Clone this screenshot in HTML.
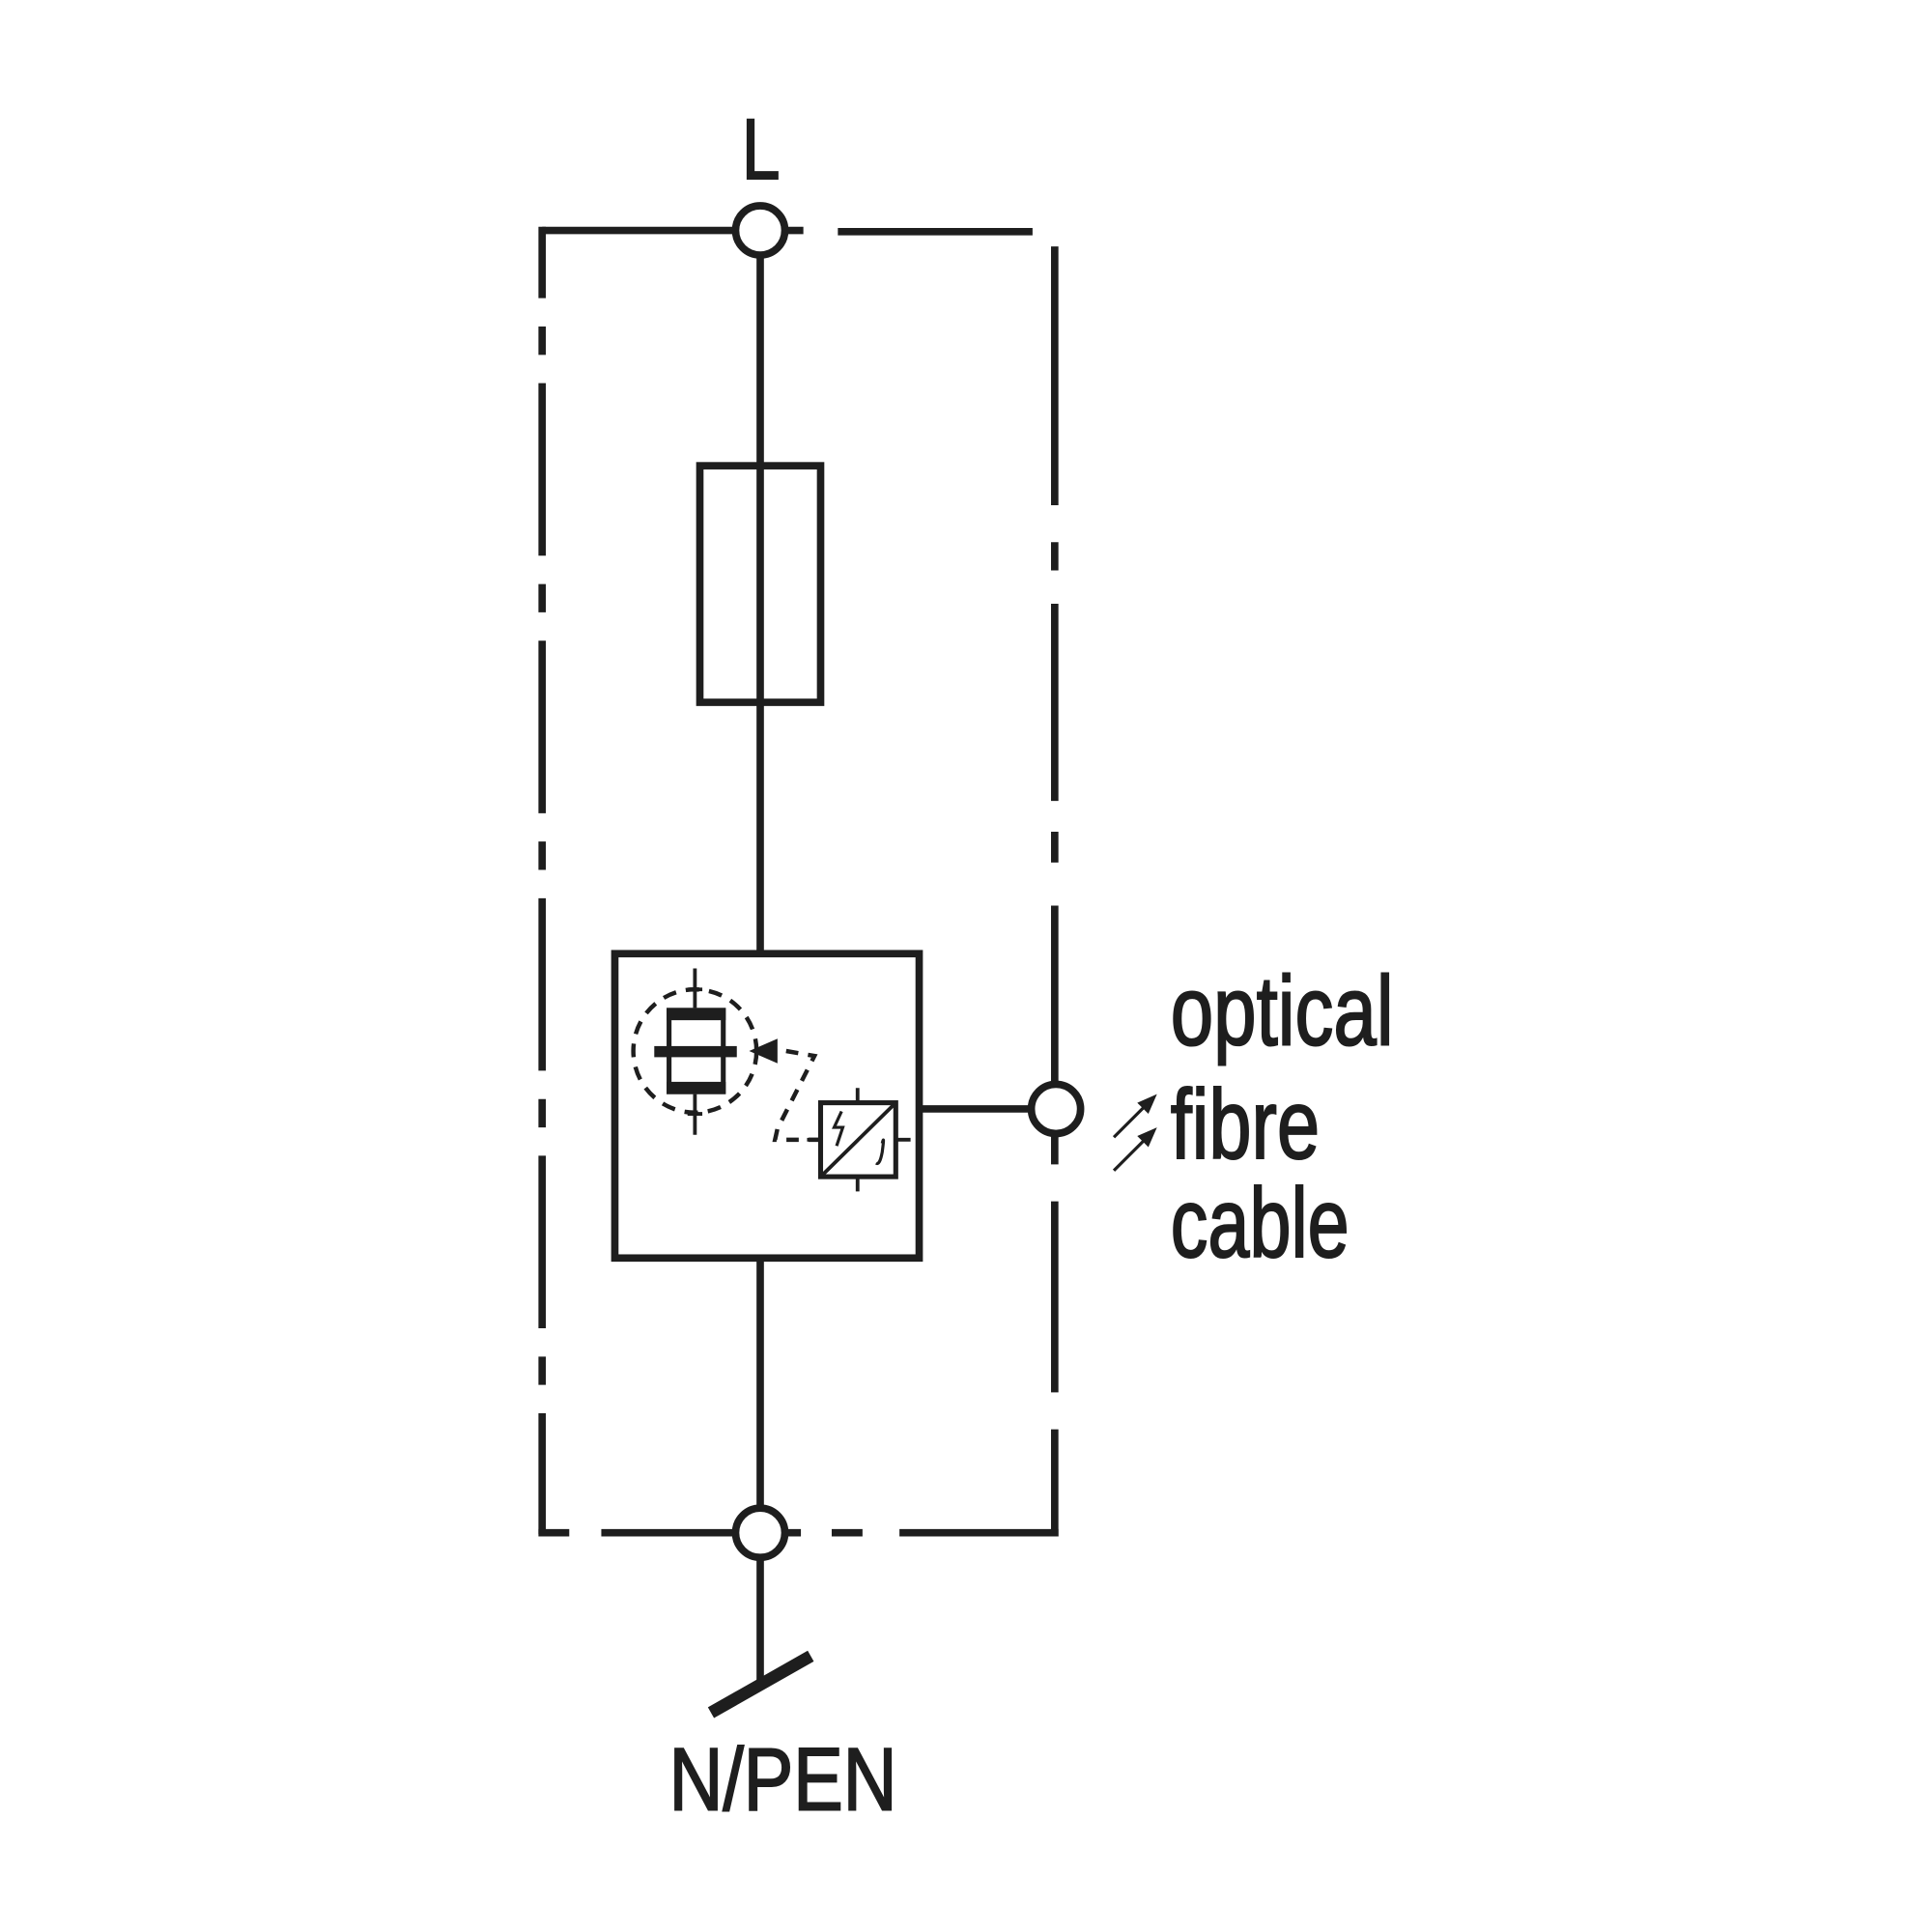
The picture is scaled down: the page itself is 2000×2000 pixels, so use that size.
<!DOCTYPE html>
<html><head><style>html,body{margin:0;padding:0;background:#fff}svg{display:block}</style></head>
<body>
<svg width="2000" height="2000" viewBox="0 0 1568 1568" xmlns="http://www.w3.org/2000/svg">
<g stroke="#1e1e1e" stroke-width="6" fill="none" stroke-linecap="butt">
<path d="M440 187 H597 M637 187 H652 M680 188 H838"/>
<path d="M440 184 V1245" stroke-dasharray="140 23 23 23" stroke-dashoffset="82"/>
<path d="M856 200 V410 M856 440 V463 M856 490 V650 M856 675 V700 M856 735 V880 M856 920 V945 M856 975 V1130 M856 1160 V1247"/>
<path d="M437 1244 H462 M488 1244 H597 M637 1244 H650 M675 1244 H700 M730 1244 H859"/>
<path d="M617 207 V774 M617 1021 V1224 M617 1264 V1366"/>
<rect x="568" y="378" width="98" height="192"/>
<rect x="499" y="774" width="247" height="247"/>
<path d="M746 900 H837"/>
<circle cx="617" cy="187" r="20" fill="#fff"/>
<circle cx="617" cy="1244" r="20" fill="#fff"/>
<circle cx="857" cy="900" r="20" fill="#fff"/>
<path d="M577 1390 L658 1344" stroke-width="10"/>
</g>
<g stroke="#1e1e1e" fill="none">
<circle cx="564" cy="853" r="50" stroke-width="3.5" stroke-dasharray="11 8"/>
<rect x="543" y="820" width="44" height="66" stroke-width="4"/>
<rect x="541" y="818" width="48" height="10" fill="#1e1e1e" stroke="none"/>
<rect x="541" y="878" width="48" height="10" fill="#1e1e1e" stroke="none"/>
<rect x="531" y="849" width="67" height="9" fill="#1e1e1e" stroke="none"/>
<path d="M564 786 V818 M564 888 V921 M558 803 H570 M558 904 H570" stroke-width="3"/>
<path d="M638 853 L661 857 L631 916 L629 925 H666" stroke-width="3.5" stroke-dasharray="10 8"/>
<polygon points="608,853 631,843 631,863" fill="#1e1e1e" stroke="none"/>
<rect x="666" y="895" width="61" height="60" stroke-width="4"/>
<path d="M666 955 L727 895 M696 883 V895 M696 955 V967 M727 925 H739 M655 925 H666" stroke-width="3"/>
<path d="M683 902 L677 915 L684 915 L679 930" stroke-width="2.5"/>
<path d="M716 928 Q718 920 716 935 Q714 946 711 944" stroke-width="2.5"/>
<path d="M904 923 L930 897 M904 950 L930 924" stroke-width="2.5"/>
<polygon points="939,888 923,895 932,904" fill="#1e1e1e" stroke="none"/>
<polygon points="939,915 923,922 932,931" fill="#1e1e1e" stroke="none"/>
</g>
<g font-family="Liberation Sans, sans-serif" fill="#1e1e1e" stroke="#1e1e1e" stroke-width="1.6">
<text x="602" y="145" font-size="70" textLength="31" lengthAdjust="spacingAndGlyphs">L</text>
<text x="543" y="1469" font-size="72" textLength="185" lengthAdjust="spacingAndGlyphs">N/PEN</text>
<text x="950" y="848" font-size="80" textLength="181" lengthAdjust="spacingAndGlyphs">optical</text>
<text x="950" y="940" font-size="80" textLength="121" lengthAdjust="spacingAndGlyphs">fibre</text>
<text x="950" y="1020" font-size="80" textLength="145" lengthAdjust="spacingAndGlyphs">cable</text>
</g>
</svg>
</body></html>
